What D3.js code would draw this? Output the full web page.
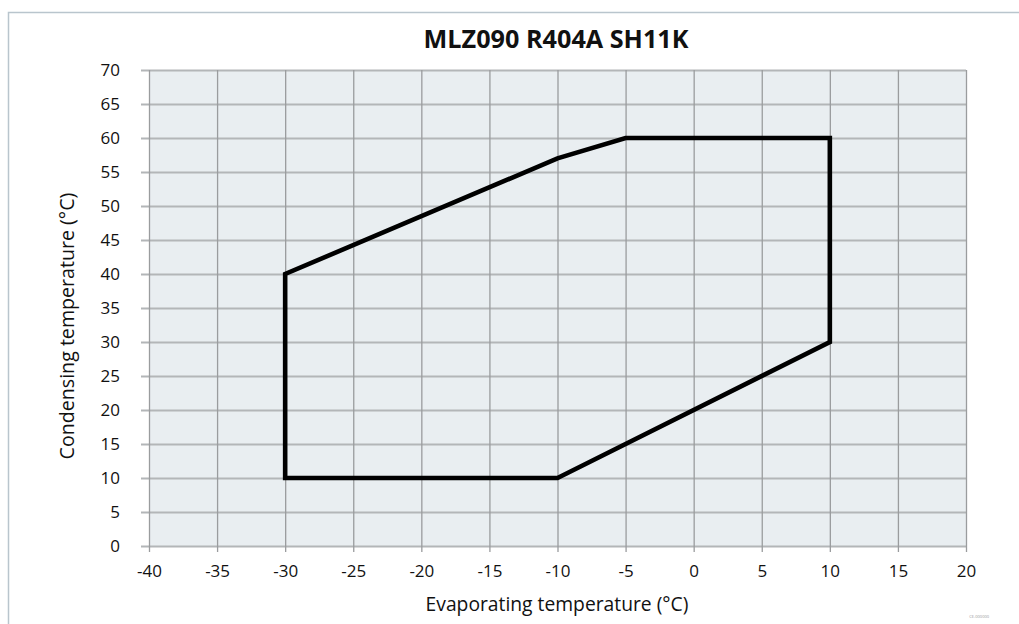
<!DOCTYPE html>
<html>
<head>
<meta charset="utf-8">
<script src="https://cdn.jsdelivr.net/npm/d3@7/dist/d3.min.js"></script>
<style>
html,body{margin:0;padding:0;background:#fff;}
svg{display:block;}
text{font-family:"Open Sans","Noto Sans",sans-serif;fill:#111;}
</style>
</head>
<body>
<svg id="chart" width="1019" height="624"></svg>
<script>
const title = "MLZ090 R404A SH11K";
const xLabel = "Evaporating temperature (°C)";
const yLabel = "Condensing temperature (°C)";
const xTicks = [-40,-35,-30,-25,-20,-15,-10,-5,0,5,10,15,20];
const yTicks = [0,5,10,15,20,25,30,35,40,45,50,55,60,65,70];
const envelopeEvap = [-30,-30,-10,-5,10,10,-10];
const envelopeCond = [10,40,57,60,60,30,10];
const docCode = "CE-000000";

(function(){
const svg = d3.select("#chart");
const W = 1019, H = 624;
const pL = 149, pR = 966, pT = 70, pB = 546;

const x = d3.scaleLinear().domain([-40,20]).range([pL,pR]);
const y = d3.scaleLinear().domain([0,70]).range([pB,pT]);

// frame
svg.append("path")
  .attr("d",`M8.5,${H} L8.5,12.5 L${W},12.5`)
  .attr("fill","none").attr("stroke","#b9c5cd").attr("stroke-width",1.5);

// plot background
svg.append("rect").attr("x",pL).attr("y",pT)
  .attr("width",pR-pL).attr("height",pB-pT)
  .attr("fill","#e9eef1");

// horizontal grid
const gy = svg.append("g").attr("transform",`translate(${pL},0)`)
  .call(d3.axisLeft(y).tickValues(yTicks).tickSize(-(pR-pL)).tickSizeOuter(0).tickPadding(29));
gy.select(".domain").remove();
gy.selectAll(".tick line").attr("stroke","#b3b6b8").attr("stroke-width",1.8).attr("x1",-8);
gy.selectAll(".tick text").attr("font-size",17).attr("fill","#111")
  .attr("font-family","'Open Sans','Noto Sans',sans-serif").attr("dy","0.35em");

// vertical grid
const gx = svg.append("g").attr("transform",`translate(0,${pB})`)
  .call(d3.axisBottom(x).tickValues(xTicks).tickSize(-(pB-pT)).tickSizeOuter(0).tickPadding(19).tickFormat(d3.format("d")));
gx.select(".domain").remove();
gx.selectAll(".tick line").attr("stroke","#9a9c9e").attr("stroke-width",1.3).attr("y1",6);
gx.selectAll(".tick text").attr("font-size",17).attr("fill","#111")
  .attr("font-family","'Open Sans','Noto Sans',sans-serif")
  .text(d=>String(d));

// envelope
const pts = envelopeEvap.map((e,i)=>[e,envelopeCond[i]]);
svg.append("path")
  .attr("d", d3.line().x(d=>x(d[0])).y(d=>y(d[1]))(pts) + "Z")
  .attr("fill","none").attr("stroke","#000").attr("stroke-width",4.6)
  .attr("stroke-linejoin","miter");

function fit(sel, target){
  const n = sel.node(); const w = n.getComputedTextLength();
  const fs = parseFloat(sel.attr("font-size"));
  sel.attr("font-size", (fs*target/w).toFixed(2));
}
// title
const t = svg.append("text").attr("x",556).attr("y",48).attr("text-anchor","middle")
  .attr("font-size",21).attr("font-weight","bold").text(title);
fit(t,265);

const xl = svg.append("text").attr("x",557).attr("y",611).attr("text-anchor","middle")
  .attr("font-size",18).text(xLabel);
fit(xl,263);

const yl = svg.append("text").attr("transform",`translate(74,326) rotate(-90)`).attr("text-anchor","middle")
  .attr("font-size",18).text(yLabel);
fit(yl,267);

svg.append("text").attr("x",989).attr("y",618).attr("text-anchor","end")
  .attr("font-size",4).style("fill","#999").text(docCode);
})();
</script>
</body>
</html>
